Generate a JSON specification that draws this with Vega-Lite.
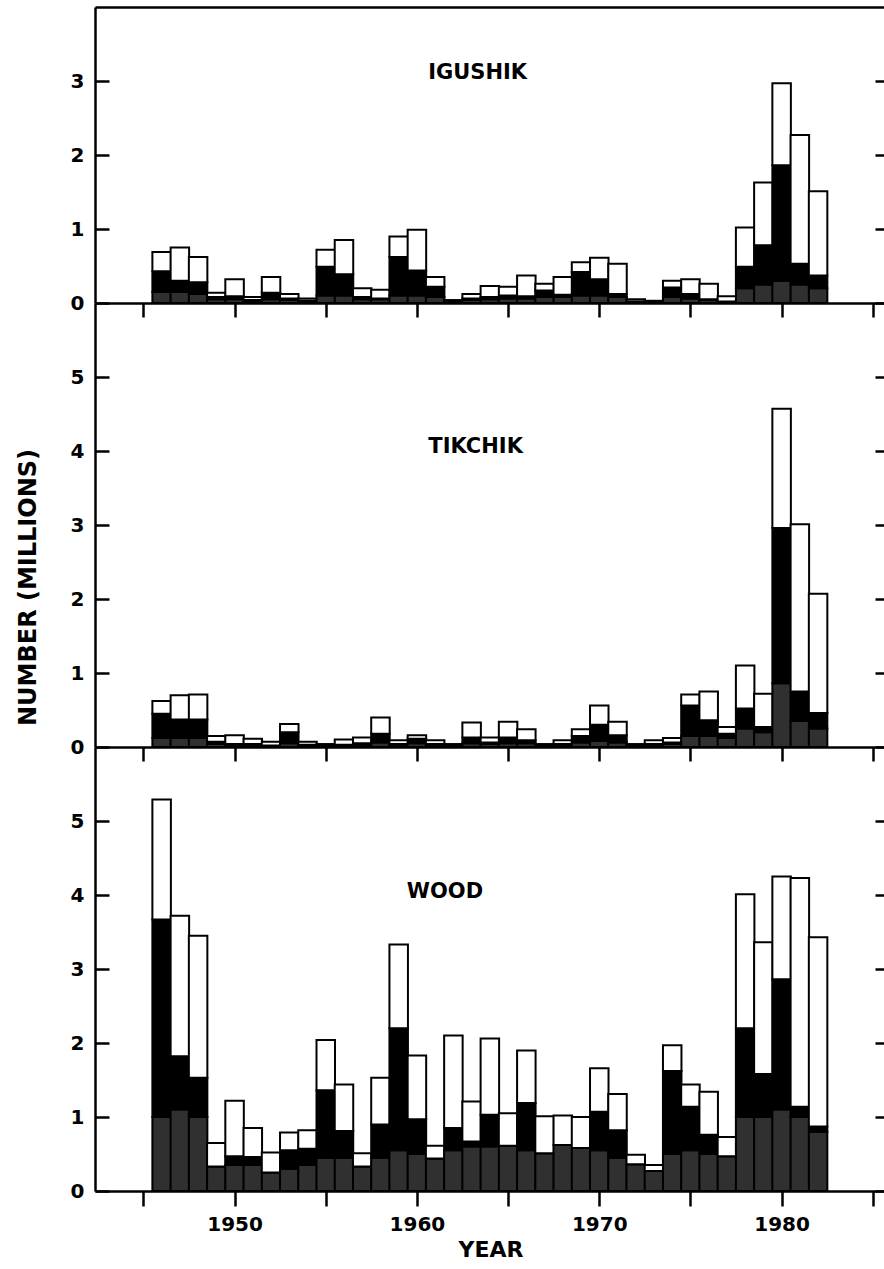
{
  "$schema": "https://vega.github.io/schema/vega-lite/v6.json",
  "background": "white",
  "padding": {"left": 16, "top": 7, "right": 0, "bottom": 0},
  "spacing": 0,
  "bounds": "flush",
  "config": {
    "view": {"stroke": null},
    "font": "DejaVu Sans",
    "axis": {
      "domainColor": "black", "tickColor": "black", "labelColor": "black", "titleColor": "black",
      "domainWidth": 2.5, "tickWidth": 2.5, "grid": false,
      "labelFont": "DejaVu Sans", "labelFontWeight": "bold", "labelFontSize": 20,
      "titleFont": "DejaVu Sans", "titleFontWeight": "bold", "titleFontSize": 22,
      "labelFlush": false, "labelOverlap": false
    },
    "text": {"font": "DejaVu Sans", "fontWeight": "bold", "fontSize": 21}
  },
  "datasets": {
    "igushik": [
      {"year":1946,"lower":0.15,"middle":0.28,"upper":0.26},
      {"year":1947,"lower":0.15,"middle":0.15,"upper":0.45},
      {"year":1948,"lower":0.12,"middle":0.16,"upper":0.34},
      {"year":1949,"lower":0.05,"middle":0.03,"upper":0.06},
      {"year":1950,"lower":0.05,"middle":0.04,"upper":0.23},
      {"year":1951,"lower":0.03,"middle":0.01,"upper":0.04},
      {"year":1952,"lower":0.05,"middle":0.09,"upper":0.21},
      {"year":1953,"lower":0.04,"middle":0.02,"upper":0.06},
      {"year":1954,"lower":0.02,"middle":0.01,"upper":0.03},
      {"year":1955,"lower":0.10,"middle":0.39,"upper":0.23},
      {"year":1956,"lower":0.10,"middle":0.29,"upper":0.46},
      {"year":1957,"lower":0.05,"middle":0.03,"upper":0.12},
      {"year":1958,"lower":0.05,"middle":0.01,"upper":0.12},
      {"year":1959,"lower":0.10,"middle":0.52,"upper":0.28},
      {"year":1960,"lower":0.10,"middle":0.34,"upper":0.55},
      {"year":1961,"lower":0.08,"middle":0.14,"upper":0.13},
      {"year":1962,"lower":0.02,"middle":0.00,"upper":0.02},
      {"year":1963,"lower":0.04,"middle":0.02,"upper":0.06},
      {"year":1964,"lower":0.05,"middle":0.03,"upper":0.15},
      {"year":1965,"lower":0.06,"middle":0.04,"upper":0.12},
      {"year":1966,"lower":0.06,"middle":0.03,"upper":0.28},
      {"year":1967,"lower":0.08,"middle":0.09,"upper":0.09},
      {"year":1968,"lower":0.08,"middle":0.03,"upper":0.24},
      {"year":1969,"lower":0.10,"middle":0.32,"upper":0.13},
      {"year":1970,"lower":0.10,"middle":0.22,"upper":0.29},
      {"year":1971,"lower":0.08,"middle":0.04,"upper":0.41},
      {"year":1972,"lower":0.02,"middle":0.00,"upper":0.03},
      {"year":1973,"lower":0.01,"middle":0.00,"upper":0.02},
      {"year":1974,"lower":0.08,"middle":0.13,"upper":0.09},
      {"year":1975,"lower":0.06,"middle":0.06,"upper":0.20},
      {"year":1976,"lower":0.04,"middle":0.01,"upper":0.21},
      {"year":1977,"lower":0.02,"middle":0.00,"upper":0.07},
      {"year":1978,"lower":0.20,"middle":0.29,"upper":0.53},
      {"year":1979,"lower":0.25,"middle":0.53,"upper":0.85},
      {"year":1980,"lower":0.30,"middle":1.56,"upper":1.11},
      {"year":1981,"lower":0.25,"middle":0.28,"upper":1.74},
      {"year":1982,"lower":0.20,"middle":0.17,"upper":1.14}
    ],
    "tikchik": [
      {"year":1946,"lower":0.12,"middle":0.33,"upper":0.17},
      {"year":1947,"lower":0.12,"middle":0.25,"upper":0.33},
      {"year":1948,"lower":0.12,"middle":0.25,"upper":0.34},
      {"year":1949,"lower":0.04,"middle":0.03,"upper":0.08},
      {"year":1950,"lower":0.03,"middle":0.01,"upper":0.12},
      {"year":1951,"lower":0.03,"middle":0.01,"upper":0.07},
      {"year":1952,"lower":0.02,"middle":0.00,"upper":0.05},
      {"year":1953,"lower":0.05,"middle":0.15,"upper":0.11},
      {"year":1954,"lower":0.02,"middle":0.01,"upper":0.04},
      {"year":1955,"lower":0.02,"middle":0.00,"upper":0.02},
      {"year":1956,"lower":0.02,"middle":0.01,"upper":0.07},
      {"year":1957,"lower":0.03,"middle":0.02,"upper":0.08},
      {"year":1958,"lower":0.06,"middle":0.12,"upper":0.22},
      {"year":1959,"lower":0.03,"middle":0.01,"upper":0.05},
      {"year":1960,"lower":0.05,"middle":0.06,"upper":0.05},
      {"year":1961,"lower":0.03,"middle":0.01,"upper":0.05},
      {"year":1962,"lower":0.02,"middle":0.00,"upper":0.02},
      {"year":1963,"lower":0.05,"middle":0.08,"upper":0.20},
      {"year":1964,"lower":0.04,"middle":0.02,"upper":0.07},
      {"year":1965,"lower":0.05,"middle":0.08,"upper":0.21},
      {"year":1966,"lower":0.05,"middle":0.04,"upper":0.15},
      {"year":1967,"lower":0.02,"middle":0.00,"upper":0.02},
      {"year":1968,"lower":0.03,"middle":0.01,"upper":0.05},
      {"year":1969,"lower":0.06,"middle":0.09,"upper":0.09},
      {"year":1970,"lower":0.08,"middle":0.22,"upper":0.26},
      {"year":1971,"lower":0.06,"middle":0.10,"upper":0.18},
      {"year":1972,"lower":0.02,"middle":0.00,"upper":0.02},
      {"year":1973,"lower":0.03,"middle":0.01,"upper":0.05},
      {"year":1974,"lower":0.04,"middle":0.02,"upper":0.06},
      {"year":1975,"lower":0.15,"middle":0.41,"upper":0.15},
      {"year":1976,"lower":0.15,"middle":0.21,"upper":0.39},
      {"year":1977,"lower":0.12,"middle":0.06,"upper":0.09},
      {"year":1978,"lower":0.25,"middle":0.27,"upper":0.58},
      {"year":1979,"lower":0.20,"middle":0.07,"upper":0.45},
      {"year":1980,"lower":0.86,"middle":2.10,"upper":1.61},
      {"year":1981,"lower":0.35,"middle":0.40,"upper":2.26},
      {"year":1982,"lower":0.25,"middle":0.21,"upper":1.61}
    ],
    "wood": [
      {"year":1946,"lower":1.00,"middle":2.67,"upper":1.62},
      {"year":1947,"lower":1.10,"middle":0.72,"upper":1.90},
      {"year":1948,"lower":1.00,"middle":0.53,"upper":1.92},
      {"year":1949,"lower":0.33,"middle":0.00,"upper":0.32},
      {"year":1950,"lower":0.35,"middle":0.12,"upper":0.75},
      {"year":1951,"lower":0.35,"middle":0.11,"upper":0.39},
      {"year":1952,"lower":0.25,"middle":0.00,"upper":0.27},
      {"year":1953,"lower":0.30,"middle":0.25,"upper":0.24},
      {"year":1954,"lower":0.35,"middle":0.22,"upper":0.25},
      {"year":1955,"lower":0.45,"middle":0.91,"upper":0.68},
      {"year":1956,"lower":0.45,"middle":0.36,"upper":0.63},
      {"year":1957,"lower":0.33,"middle":0.00,"upper":0.18},
      {"year":1958,"lower":0.45,"middle":0.45,"upper":0.63},
      {"year":1959,"lower":0.55,"middle":1.65,"upper":1.13},
      {"year":1960,"lower":0.50,"middle":0.47,"upper":0.86},
      {"year":1961,"lower":0.44,"middle":0.00,"upper":0.17},
      {"year":1962,"lower":0.55,"middle":0.30,"upper":1.25},
      {"year":1963,"lower":0.60,"middle":0.07,"upper":0.54},
      {"year":1964,"lower":0.60,"middle":0.43,"upper":1.03},
      {"year":1965,"lower":0.61,"middle":0.00,"upper":0.44},
      {"year":1966,"lower":0.55,"middle":0.64,"upper":0.71},
      {"year":1967,"lower":0.51,"middle":0.00,"upper":0.50},
      {"year":1968,"lower":0.62,"middle":0.00,"upper":0.40},
      {"year":1969,"lower":0.58,"middle":0.00,"upper":0.42},
      {"year":1970,"lower":0.55,"middle":0.52,"upper":0.59},
      {"year":1971,"lower":0.45,"middle":0.37,"upper":0.49},
      {"year":1972,"lower":0.36,"middle":0.00,"upper":0.13},
      {"year":1973,"lower":0.27,"middle":0.00,"upper":0.08},
      {"year":1974,"lower":0.50,"middle":1.12,"upper":0.35},
      {"year":1975,"lower":0.55,"middle":0.59,"upper":0.30},
      {"year":1976,"lower":0.50,"middle":0.26,"upper":0.58},
      {"year":1977,"lower":0.47,"middle":0.00,"upper":0.26},
      {"year":1978,"lower":1.00,"middle":1.20,"upper":1.81},
      {"year":1979,"lower":1.00,"middle":0.58,"upper":1.78},
      {"year":1980,"lower":1.10,"middle":1.76,"upper":1.39},
      {"year":1981,"lower":1.00,"middle":0.14,"upper":3.09},
      {"year":1982,"lower":0.80,"middle":0.07,"upper":2.56}
    ]
  },
  "vconcat": [
    {
      "width": 791, "height": 296,
      "layer": [
        {
          "data": {"name": "igushik"},
          "transform": [{"fold": ["lower", "middle", "upper"], "as": ["part", "value"]}],
          "mark": {"type": "bar", "width": 18.5, "stroke": "black", "strokeWidth": 2},
          "encoding": {
            "x": {"field": "year", "type": "quantitative", "scale": {"domain": [1942.62, 1985.45], "nice": false, "zero": false}, "axis": null},
            "y": {"field": "value", "type": "quantitative", "stack": "zero", "scale": {"domain": [0, 4], "nice": false},
                  "axis": {"orient": "left", "values": [0, 1, 2, 3], "tickSize": -14, "labelPadding": 25, "title": null}},
            "color": {"field": "part", "type": "nominal", "scale": {"domain": ["lower", "middle", "upper"], "range": ["#303030", "#000000", "#ffffff"]}, "legend": null},
            "order": {"field": "part", "sort": "ascending"}
          }
        },
        {
          "data": {"values": [{"lake": "IGUSHIK"}]},
          "mark": {"type": "text", "align": "center", "baseline": "middle"},
          "encoding": {
            "text": {"field": "lake"},
            "x": {"datum": 1963.33, "type": "quantitative", "axis": {"orient": "top", "ticks": false, "labels": false, "title": null}},
            "y": {"datum": 3.11, "type": "quantitative", "axis": {"orient": "right", "values": [0, 1, 2, 3], "tickSize": -11, "domain": false, "labels": false, "title": null}}
          }
        }
      ],
      "resolve": {"axis": {"x": "independent", "y": "independent"}}
    },
    {
      "width": 791, "height": 444,
      "layer": [
        {
          "data": {"name": "tikchik"},
          "transform": [{"fold": ["lower", "middle", "upper"], "as": ["part", "value"]}],
          "mark": {"type": "bar", "width": 18.5, "stroke": "black", "strokeWidth": 2},
          "encoding": {
            "x": {"field": "year", "type": "quantitative", "scale": {"domain": [1942.62, 1985.45], "nice": false, "zero": false}, "axis": null},
            "y": {"field": "value", "type": "quantitative", "stack": "zero", "scale": {"domain": [0, 6], "nice": false},
                  "axis": {"orient": "left", "values": [0, 1, 2, 3, 4, 5], "tickSize": -14, "labelPadding": 25,
                           "title": "NUMBER (MILLIONS)", "titleFontSize": 24, "titleX": -67, "titleY": 284, "titleAngle": 270, "titleAlign": "center", "titleBaseline": "middle"}},
            "color": {"field": "part", "type": "nominal", "scale": {"domain": ["lower", "middle", "upper"], "range": ["#303030", "#000000", "#ffffff"]}, "legend": null},
            "order": {"field": "part", "sort": "ascending"}
          }
        },
        {
          "data": {"values": [{"lake": "TIKCHIK"}]},
          "mark": {"type": "text", "align": "center", "baseline": "middle"},
          "encoding": {
            "text": {"field": "lake"},
            "x": {"datum": 1963.22, "type": "quantitative", "axis": {"orient": "top", "values": [1945, 1950, 1955, 1960, 1965, 1970, 1975, 1980, 1985], "tickSize": -14, "labels": false, "title": null}},
            "y": {"datum": 4.05, "type": "quantitative", "axis": {"orient": "right", "values": [0, 1, 2, 3, 4, 5], "tickSize": -11, "domain": false, "labels": false, "title": null}}
          }
        }
      ],
      "resolve": {"axis": {"x": "independent", "y": "independent"}}
    },
    {
      "width": 791, "height": 444,
      "layer": [
        {
          "data": {"name": "wood"},
          "transform": [{"fold": ["lower", "middle", "upper"], "as": ["part", "value"]}],
          "mark": {"type": "bar", "width": 18.5, "stroke": "black", "strokeWidth": 2},
          "encoding": {
            "x": {"field": "year", "type": "quantitative", "scale": {"domain": [1942.62, 1985.45], "nice": false, "zero": false},
                  "axis": {"orient": "bottom", "values": [1945, 1950, 1955, 1960, 1965, 1970, 1975, 1980, 1985], "format": "d",
                           "labelExpr": "datum.value % 10 == 0 ? datum.label : ''", "tickSize": 15, "labelPadding": 8,
                           "title": "YEAR", "titlePadding": 5}},
            "y": {"field": "value", "type": "quantitative", "stack": "zero", "scale": {"domain": [0, 6], "nice": false},
                  "axis": {"orient": "left", "values": [0, 1, 2, 3, 4, 5], "tickSize": -14, "labelPadding": 25, "title": null}},
            "color": {"field": "part", "type": "nominal", "scale": {"domain": ["lower", "middle", "upper"], "range": ["#303030", "#000000", "#ffffff"]}, "legend": null},
            "order": {"field": "part", "sort": "ascending"}
          }
        },
        {
          "data": {"values": [{"lake": "WOOD"}]},
          "mark": {"type": "text", "align": "center", "baseline": "middle"},
          "encoding": {
            "text": {"field": "lake"},
            "x": {"datum": 1961.54, "type": "quantitative", "axis": {"orient": "top", "values": [1945, 1950, 1955, 1960, 1965, 1970, 1975, 1980, 1985], "tickSize": -14, "labels": false, "title": null}},
            "y": {"datum": 4.04, "type": "quantitative", "axis": {"orient": "right", "values": [0, 1, 2, 3, 4, 5], "tickSize": -11, "domain": false, "labels": false, "title": null}}
          }
        }
      ],
      "resolve": {"axis": {"x": "independent", "y": "independent"}}
    }
  ]
}
